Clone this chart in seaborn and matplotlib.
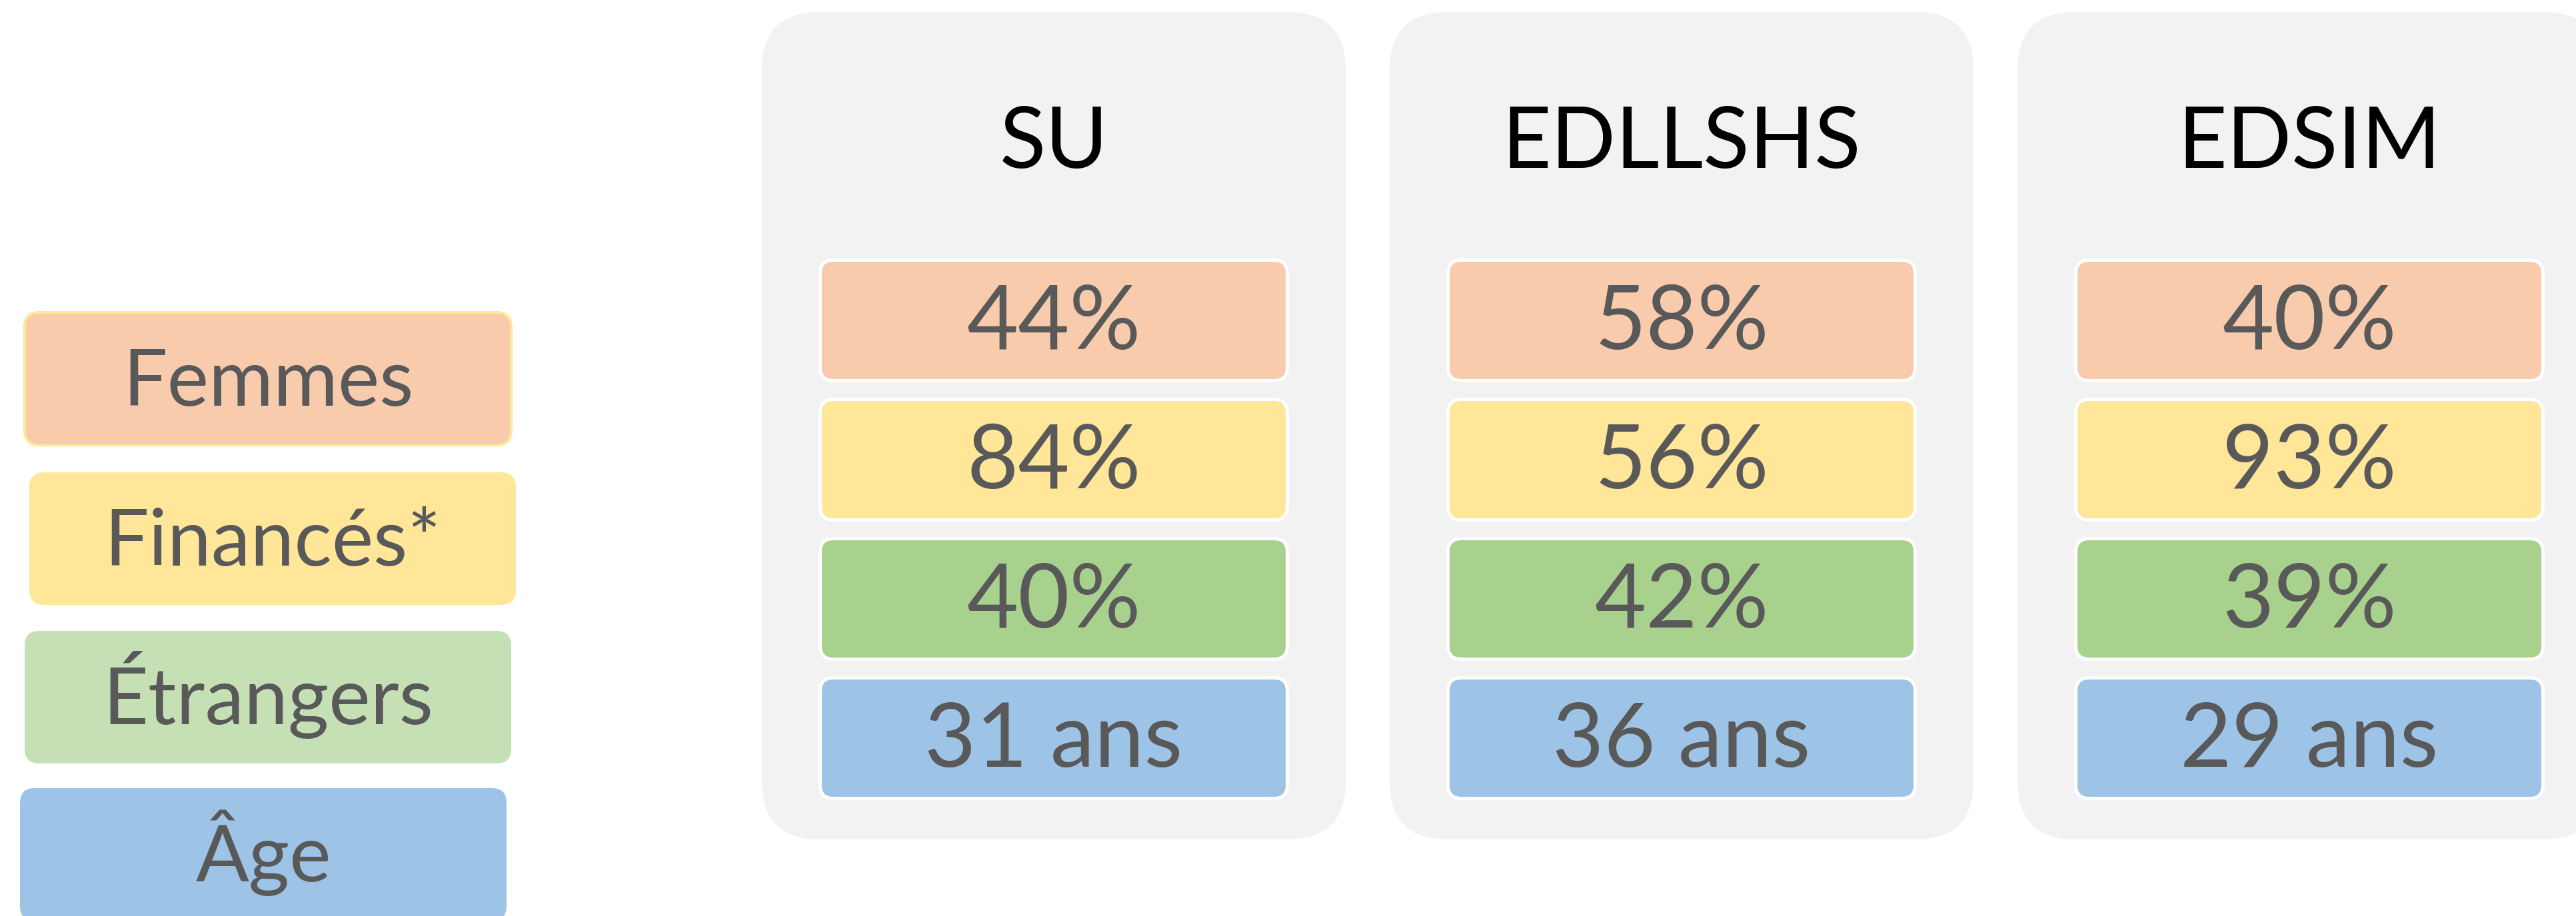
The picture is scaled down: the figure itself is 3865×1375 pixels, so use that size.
import matplotlib
matplotlib.use("Agg")
import matplotlib.pyplot as plt
from matplotlib.patches import FancyBboxPatch
import pandas as pd
import seaborn as sns

sns.set_theme(style="white")
plt.rcParams["font.family"] = ["Lato", "DejaVu Sans"]

# ---- data ----
ECOLES = ["SU", "EDLLSHS", "EDSIM"]
INDICATEURS = ["Femmes", "Financés*", "Étrangers", "Âge"]
FEMMES = [44, 58, 40]          # %
FINANCES = [84, 56, 93]        # %
ETRANGERS = [40, 42, 39]       # %
AGE = [31, 36, 29]             # ans
UNITES = ["%", "%", "%", " ans"]

COUL_LIGNE = ["#F8CBAD", "#FFE699", "#A9D18E", "#9DC3E6"]
COUL_LEG = ["#F8CBAD", "#FFE699", "#C5E0B4", "#9DC3E6"]
GRIS_TXT = "#595959"
FOND_CARTE = "#F2F2F2"

df = pd.DataFrame({"ecole": ECOLES, "Femmes": FEMMES, "Financés*": FINANCES,
                   "Étrangers": ETRANGERS, "Âge": AGE}).melt(
    id_vars="ecole", var_name="indicateur", value_name="valeur")

W, H, DPI = 3865, 1375, 100
fig = plt.figure(figsize=(W / DPI, H / DPI), dpi=DPI)
ax = fig.add_axes([0, 0, 1, 1])
ax.set_xlim(0, W); ax.set_ylim(H, 0); ax.axis("off")
PT = 72 / DPI  # px -> pt

def boite(x, y, w, h, r, fc, ec="none", lw=0, z=1):
    ax.add_patch(FancyBboxPatch((x, y), w, h, boxstyle=f"round,pad=0,rounding_size={r}",
                                fc=fc, ec=ec, lw=lw * PT, zorder=z))

# ---- legende a gauche ----
LEG_X = [37, 44, 37, 30]
LEG_Y = [469, 709, 947, 1183]
for k, ind in enumerate(INDICATEURS):
    ec = "#FFE699" if k == 0 else "none"
    boite(LEG_X[k], LEG_Y[k], 730, 199, 22, COUL_LEG[k], ec=ec, lw=4 if k == 0 else 0)
    ax.text(LEG_X[k] + 365, LEG_Y[k] + 140, ind, ha="center", va="baseline",
            fontsize=85, color=GRIS_TXT, zorder=3)

# ---- cartes par ecole ----
CARTE_X0, CARTE_PAS, CARTE_W = 1143, 942, 876
for i, ecole in enumerate(ECOLES):
    cx = CARTE_X0 + i * CARTE_PAS
    boite(cx, 18, CARTE_W, 1242, 87, FOND_CARTE)
    ax.text(cx + CARTE_W / 2, 252, ecole, ha="center", va="baseline",
            fontsize=92, color="black", zorder=3)
    sub = df[df.ecole == ecole].set_index("indicateur")
    for k, ind in enumerate(INDICATEURS):
        ry = 390.5 + k * 209
        boite(cx + 87.5, ry, 701, 181, 20, COUL_LIGNE[k], ec="white", lw=5, z=2)
        ax.text(cx + CARTE_W / 2, ry + 133, f"{sub.loc[ind, 'valeur']}{UNITES[k]}",
                ha="center", va="baseline", fontsize=96, color=GRIS_TXT, zorder=3)

fig.savefig("out.png", dpi=DPI)
